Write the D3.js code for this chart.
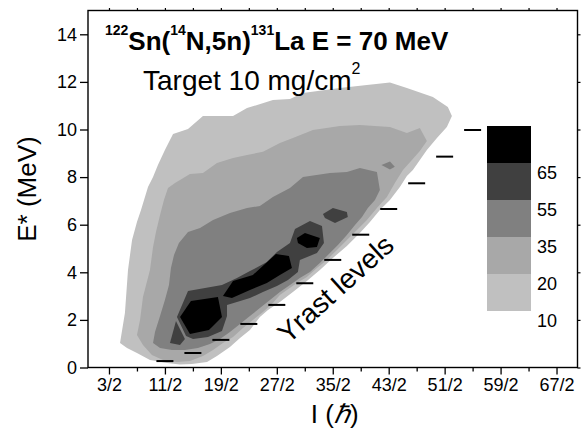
<!DOCTYPE html>
<html>
<head>
<meta charset="utf-8">
<script src="https://cdn.jsdelivr.net/npm/d3@7"></script>
<style>
  html, body { margin: 0; padding: 0; background: #fff; }
  svg { display: block; }
  text { font-family: "Liberation Sans", Arial, Helvetica, sans-serif; fill: #000; }
</style>
</head>
<body>
<svg id="chart" width="584" height="432"></svg>
<script>
// Contour levels (counts) and their grey fills, lowest to highest
const contourLevels = [10, 20, 35, 55, 65];
const levelColors = ["#c0c0c0", "#a8a8a8", "#808080", "#404040", "#000000"];

// Region outlines, as [I (hbar), E* (MeV)] vertices
const level10Outline = [[2.29,1.03],[2.64,2.29],[2.86,4.10],[3.15,5.36],[3.50,6.11],[3.79,6.62],[4.29,7.58],[4.65,8.00],[5.00,8.51],[5.50,9.14],[6.08,9.81],[7.15,10.02],[8.22,10.57],[10.37,10.57],[11.37,10.90],[13.22,11.24],[14.44,11.28],[15.37,11.53],[18.01,11.74],[19.94,11.87],[21.59,11.97],[22.80,11.74],[24.66,11.37],[25.73,10.95],[26.02,10.57],[25.66,10.11],[24.95,9.64],[24.23,9.14],[23.73,8.72],[23.23,8.30],[22.80,8.05],[22.30,7.58],[21.59,7.04],[20.87,6.62],[20.16,6.11],[19.44,5.65],[18.51,5.11],[17.51,4.60],[16.58,4.10],[15.65,3.63],[14.65,3.17],[13.72,2.75],[12.87,2.42],[12.29,2.12],[11.58,1.58],[10.87,1.24],[10.15,0.86],[9.22,0.48],[8.51,0.23],[7.43,0.15],[6.58,0.13],[5.65,0.19],[4.43,0.32],[3.50,0.61],[2.79,0.82]];

const level20Outline = [[3.50,1.37],[3.72,2.00],[3.93,2.96],[4.43,4.10],[4.65,5.06],[4.86,5.69],[5.15,6.41],[5.43,7.04],[5.72,7.54],[6.22,7.75],[7.29,8.13],[8.22,8.17],[9.22,8.59],[10.37,8.80],[11.37,8.93],[12.51,9.06],[13.72,9.43],[14.65,9.64],[16.08,9.98],[18.01,10.15],[19.44,10.19],[21.59,10.11],[22.80,9.85],[23.73,10.06],[24.23,9.52],[23.73,9.10],[23.16,8.72],[22.52,8.30],[21.94,7.75],[21.37,7.16],[20.66,6.70],[19.94,6.20],[19.23,5.78],[18.51,5.36],[17.80,4.94],[17.08,4.52],[16.37,4.18],[15.65,3.80],[14.94,3.55],[14.22,3.26],[13.72,3.05],[13.22,2.71],[12.51,2.33],[11.79,2.00],[11.08,1.66],[10.37,1.28],[9.65,1.03],[8.94,0.74],[8.22,0.48],[7.29,0.27],[6.36,0.23],[5.36,0.32],[4.57,0.53],[3.93,0.95]];

const level35Outline = [[4.65,1.03],[4.79,1.49],[5.15,2.16],[5.50,2.84],[5.79,3.47],[5.93,4.18],[6.15,4.73],[6.50,5.23],[7.15,5.69],[8.01,5.86],[8.94,6.20],[10.15,6.49],[11.37,6.70],[12.29,6.79],[13.22,7.16],[14.44,7.54],[15.37,8.00],[17.30,8.17],[18.51,8.21],[19.44,8.38],[20.66,8.21],[20.87,7.46],[20.52,7.04],[20.01,6.70],[19.59,6.32],[19.09,5.99],[18.51,5.57],[17.87,5.15],[17.30,4.81],[16.58,4.39],[15.87,4.01],[15.15,3.76],[14.44,3.47],[13.72,3.17],[13.01,2.84],[12.29,2.50],[11.58,2.16],[10.87,1.83],[10.15,1.49],[9.44,1.20],[8.72,0.99],[7.86,0.82],[6.93,0.74],[6.00,0.74],[5.15,0.82]];
const level35Island = [[20.98,8.51],[21.59,8.66],[21.94,8.43],[21.59,8.32]];

const level55Band = [[6.36,2.12],[7.15,3.21],[9.58,3.47],[10.65,3.76],[11.58,4.05],[12.79,4.43],[13.51,4.85],[14.44,5.23],[14.80,5.82],[15.87,6.16],[16.73,5.95],[16.87,5.23],[16.37,4.81],[15.15,4.52],[15.01,4.01],[14.30,3.68],[13.51,3.42],[12.51,3.17],[11.58,2.92],[10.65,2.75],[9.94,2.63],[9.94,2.16],[9.58,1.53],[8.58,1.28],[7.51,1.20],[7.01,1.32]];
const level55Corner = [[5.86,1.03],[6.29,1.95],[6.93,1.20],[6.58,0.95]];
const level55Island = [[16.80,6.45],[17.51,6.70],[18.51,6.53],[18.58,6.32],[17.66,6.07],[16.94,6.28]];

const level65Spots = [
  [[6.58,2.12],[7.36,2.79],[9.29,2.96],[9.58,2.12],[8.65,1.58],[7.29,1.41]],
  [[9.65,3.00],[10.37,3.63],[11.79,3.89],[13.44,4.77],[14.37,4.68],[14.58,4.18],[13.72,3.89],[12.79,3.55],[11.58,3.26],[10.29,2.92]],
  [[14.94,5.44],[15.51,5.65],[16.58,5.44],[16.37,5.06],[15.65,5.02],[15.01,5.23]]
];

// Yrast line: spin (hbar) and excitation energy (MeV)
const yrastSpin   = [5.5, 7.5, 9.5, 11.5, 13.5, 15.5, 17.5, 19.5, 21.5, 23.5, 25.5, 27.5];
const yrastEnergy = [0.27, 0.61, 1.16, 1.83, 2.63, 3.54, 4.52, 5.58, 6.66, 7.74, 8.86, 9.98];

// Axis ticks
const xMajorTicks = [1.5, 5.5, 9.5, 13.5, 17.5, 21.5, 25.5, 29.5, 33.5];
const xTickLabels = ["3/2", "11/2", "19/2", "27/2", "35/2", "43/2", "51/2", "59/2", "67/2"];
const xMinorTicks = [3.5, 7.5, 11.5, 15.5, 19.5, 23.5, 27.5, 31.5];
const yMajorTicks = [0, 2, 4, 6, 8, 10, 12, 14];

const svg = d3.select("#chart");
const W = 584, H = 432;
const margin = { top: 10.5, right: 6.5, bottom: 64.5, left: 88 };

const x = d3.scaleLinear().domain([0, 35]).range([margin.left, W - margin.right]);
const y = d3.scaleLinear().domain([0, 15]).range([H - margin.bottom, margin.top]);

const area = d3.line().x(d => x(d[0])).y(d => y(d[1])).curve(d3.curveLinearClosed);
const fill = lvl => levelColors[contourLevels.indexOf(lvl)];

// Filled contour regions, drawn from the lowest level up
const plot = svg.append("g");
const regions = [
  { lvl: 10, shapes: [level10Outline] },
  { lvl: 20, shapes: [level20Outline] },
  { lvl: 35, shapes: [level35Outline, level35Island] },
  { lvl: 55, shapes: [level55Band, level55Corner, level55Island] },
  { lvl: 65, shapes: level65Spots }
];
regions.forEach(r => {
  plot.selectAll(null).data(r.shapes).join("path")
    .attr("d", area)
    .attr("fill", fill(r.lvl))
    .attr("stroke", "none");
});

// Yrast levels as short horizontal bars
const dashHalf = 8.5;
svg.append("g").selectAll("line")
  .data(yrastSpin.map((s, i) => [s, yrastEnergy[i]]))
  .join("line")
  .attr("x1", d => x(d[0]) - dashHalf)
  .attr("x2", d => x(d[0]) + dashHalf)
  .attr("y1", d => y(d[1]))
  .attr("y2", d => y(d[1]))
  .attr("stroke", "#000")
  .attr("stroke-width", 2);

// Axes
const tickFont = g => g.selectAll("text").style("font-size", "18px").style("font-family", '"Liberation Sans", Arial, sans-serif');
const noDomain = g => g.select(".domain").remove();

svg.append("g")
  .attr("transform", `translate(0,${y(0)})`)
  .call(d3.axisBottom(x).tickValues(xMajorTicks).tickSize(7).tickPadding(4)
    .tickFormat((d, i) => xTickLabels[i]))
  .call(noDomain).call(tickFont)
  .call(g => g.selectAll("line").attr("stroke-width", 1.3));

svg.append("g")
  .attr("transform", `translate(0,${y(0)})`)
  .call(d3.axisBottom(x).tickValues(xMinorTicks).tickSize(4).tickFormat(""))
  .call(noDomain)
  .call(g => g.selectAll("line").attr("stroke-width", 1.3));

svg.append("g")
  .attr("transform", `translate(${x(0)},0)`)
  .call(d3.axisLeft(y).tickValues(yMajorTicks).tickSize(8).tickPadding(3))
  .call(noDomain).call(tickFont)
  .call(g => g.selectAll("line").attr("stroke-width", 1.3));

svg.append("g")
  .attr("transform", `translate(0,${y(15)})`)
  .call(d3.axisTop(x).tickValues(xMajorTicks.concat(xMinorTicks)).tickSize(2.5).tickFormat(""))
  .call(noDomain)
  .call(g => g.selectAll("line").attr("stroke-width", 1.2));

svg.append("g")
  .attr("transform", `translate(${x(35)},0)`)
  .call(d3.axisRight(y).tickValues(yMajorTicks).tickSize(3).tickFormat(""))
  .call(noDomain)
  .call(g => g.selectAll("line").attr("stroke-width", 1.2));

// Plot frame
svg.append("rect")
  .attr("x", x(0)).attr("y", y(15))
  .attr("width", x(35) - x(0)).attr("height", y(0) - y(15))
  .attr("fill", "none").attr("stroke", "#000").attr("stroke-width", 1.4);

// Axis titles
svg.append("text")
  .attr("transform", `translate(36,${(y(0) + y(15)) / 2}) rotate(-90)`)
  .attr("text-anchor", "middle")
  .style("font-size", "26px")
  .text("E* (MeV)");

const xt = svg.append("text")
  .attr("x", (x(0) + x(35)) / 2 + 2).attr("y", 423)
  .attr("text-anchor", "middle")
  .style("font-size", "26px");
xt.append("tspan").text("I (");
xt.append("tspan").style("font-style", "italic").text("\u210F");
xt.append("tspan").text(")");

// Reaction and target annotations
const title = svg.append("text").attr("x", 105).attr("y", 50)
  .style("font-size", "26px").style("font-weight", "bold");
const sup = (t, s) => t.append("tspan").attr("dy", -15).style("font-size", "14px").text(s);
const base = (t, s) => t.append("tspan").attr("dy", 15).text(s);
title.append("tspan").attr("dy", -15).style("font-size", "14px").text("122");
base(title, "Sn(");
sup(title, "14");
base(title, "N,5n)");
sup(title, "131");
base(title, "La E = 70 MeV");

const target = svg.append("text").attr("x", 143).attr("y", 90)
  .style("font-size", "28px");
target.append("tspan").text("Target 10 mg/cm");
target.append("tspan").attr("dy", -16).style("font-size", "16px").text("2");

// Yrast line label
svg.append("text")
  .attr("transform", "translate(342,296) rotate(-42)")
  .attr("text-anchor", "middle")
  .style("font-size", "28px")
  .text("Yrast levels");

// Colour-scale legend
const legendY = d3.scaleLinear().domain([0, contourLevels.length]).range([311, 126]);
const legend = svg.append("g");
legend.selectAll("rect").data(contourLevels).join("rect")
  .attr("x", 487).attr("width", 44)
  .attr("y", (d, i) => legendY(i + 1))
  .attr("height", (d, i) => legendY(i) - legendY(i + 1))
  .attr("fill", (d, i) => levelColors[i]);
legend.selectAll("text").data(contourLevels).join("text")
  .attr("x", 537)
  .attr("y", (d, i) => legendY(i) + 16)
  .style("font-size", "18px")
  .text(d => d);
</script>
</body>
</html>
